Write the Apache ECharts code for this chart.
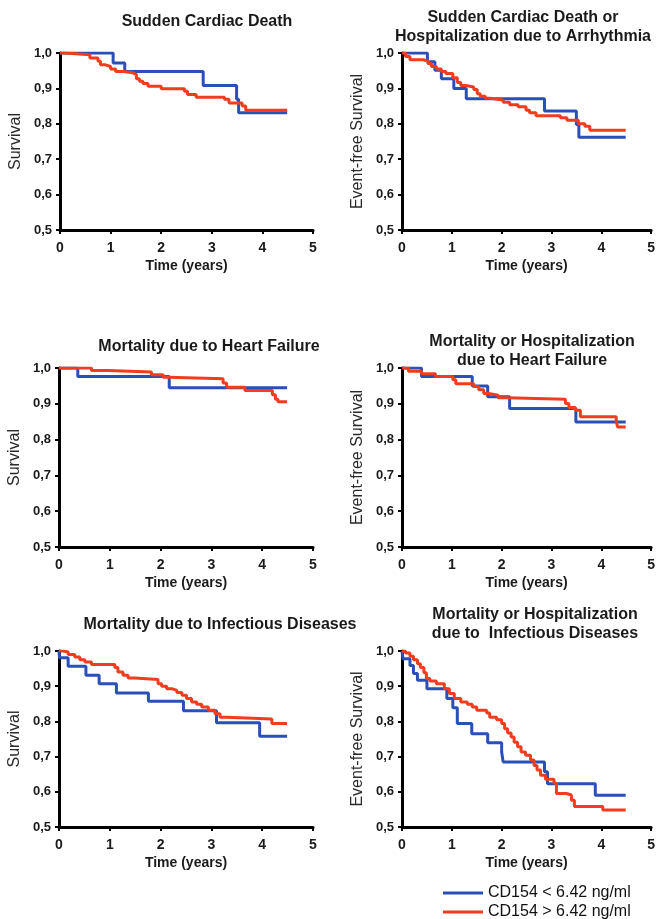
<!DOCTYPE html>
<html>
<head>
<meta charset="utf-8">
<script src="https://cdn.jsdelivr.net/npm/echarts@6/dist/echarts.min.js"></script>
<style>
  html, body { margin: 0; padding: 0; background: #fff; }
  #main { width: 658px; height: 919px; }
</style>
</head>
<body>
<div id="main"></div>
<script>
// Kaplan-Meier curves: [time (years), survival]
var lowName = 'CD154 < 6.42 ng/ml';
var highName = 'CD154 > 6.42 ng/ml';

var xTicks = [0, 1, 2, 3, 4, 5];
var yTicks = [0.5, 0.6, 0.7, 0.8, 0.9, 1.0];

var panelTitles = [
  'Sudden Cardiac Death',
  'Sudden Cardiac Death or\nHospitalization due to Arrhythmia',
  'Mortality due to Heart Failure',
  'Mortality or Hospitalization\ndue to Heart Failure',
  'Mortality due to Infectious Diseases',
  'Mortality or Hospitalization\ndue to  Infectious Diseases'
];
var yNames = ['Survival', 'Event-free Survival', 'Survival', 'Event-free Survival', 'Survival', 'Event-free Survival'];

// Sudden cardiac death
var scdLow = [[0, 1], [1.05, 0.972], [1.28, 0.948], [2.83, 0.908], [3.49, 0.869], [3.53, 0.831], [4.49, 0.831]];
var scdHigh = [[0, 1], [0.1, 0.995], [0.59, 0.986], [0.75, 0.977], [0.8, 0.967], [0.88, 0.962], [1.0, 0.955],
  [1.1, 0.948], [1.25, 0.944], [1.44, 0.939], [1.51, 0.927], [1.57, 0.92], [1.64, 0.914], [1.74, 0.906],
  [2.0, 0.899], [2.46, 0.892], [2.52, 0.883], [2.69, 0.875], [3.25, 0.869], [3.34, 0.859], [3.6, 0.85],
  [3.67, 0.838], [4.49, 0.838]];

// Sudden cardiac death or hospitalization due to arrhythmia
var scdArrLow = [[0, 1], [0.51, 0.975], [0.66, 0.951], [0.79, 0.927], [1.04, 0.9], [1.29, 0.871],
  [2.86, 0.836], [3.5, 0.798], [3.55, 0.762], [4.49, 0.762]];
var scdArrHigh = [[0, 1], [0.07, 0.99], [0.16, 0.981], [0.43, 0.977], [0.52, 0.97], [0.59, 0.962], [0.69, 0.955],
  [0.79, 0.948], [0.88, 0.942], [1.02, 0.93], [1.11, 0.917], [1.18, 0.908], [1.28, 0.904], [1.44, 0.897],
  [1.51, 0.885], [1.57, 0.878], [1.67, 0.872], [1.77, 0.867], [2.03, 0.861], [2.16, 0.854], [2.33, 0.848],
  [2.49, 0.838], [2.56, 0.831], [2.69, 0.823], [3.18, 0.817], [3.31, 0.81], [3.54, 0.8], [3.67, 0.793],
  [3.77, 0.782], [4.49, 0.782]];

// Mortality due to heart failure
var hfLow = [[0, 1], [0.37, 0.976], [2.17, 0.945], [4.49, 0.945]];
var hfHigh = [[0, 1], [0.64, 0.993], [0.96, 0.989], [1.82, 0.981], [2.05, 0.974], [2.15, 0.97], [3.23, 0.958],
  [3.3, 0.946], [3.66, 0.937], [4.2, 0.925], [4.26, 0.913], [4.31, 0.906], [4.49, 0.906]];

// Mortality or hospitalization due to heart failure
var hfHospLow = [[0, 1], [0.39, 0.976], [1.41, 0.95], [1.72, 0.92], [2.16, 0.887], [3.49, 0.849], [4.49, 0.849]];
var hfHospHigh = [[0, 1], [0.13, 0.991], [0.39, 0.984], [0.67, 0.976], [1.02, 0.967], [1.08, 0.956], [1.44, 0.948],
  [1.54, 0.939], [1.64, 0.929], [1.74, 0.924], [1.93, 0.917], [2.1, 0.913], [3.28, 0.901], [3.35, 0.89],
  [3.48, 0.882], [3.58, 0.864], [4.3, 0.85], [4.33, 0.835], [4.49, 0.835]];

// Mortality due to infectious diseases
var infLow = [[0, 1], [0.01, 0.981], [0.18, 0.957], [0.53, 0.931], [0.79, 0.907], [1.13, 0.881], [1.76, 0.857],
  [2.45, 0.83], [3.1, 0.796], [3.95, 0.758], [4.49, 0.758]];
var infHigh = [[0, 1], [0.08, 0.997], [0.18, 0.99], [0.31, 0.983], [0.41, 0.975], [0.51, 0.969], [0.64, 0.962],
  [1.1, 0.953], [1.16, 0.94], [1.26, 0.931], [1.36, 0.923], [1.49, 0.919], [1.95, 0.907], [2.02, 0.9],
  [2.12, 0.893], [2.22, 0.888], [2.32, 0.882], [2.42, 0.874], [2.51, 0.865], [2.61, 0.855], [2.71, 0.849],
  [2.81, 0.841], [2.94, 0.832], [3.07, 0.822], [3.17, 0.812], [3.3, 0.807], [4.19, 0.794], [4.49, 0.794]];

// Mortality or hospitalization due to infectious diseases
var infHospLow = [[0, 1], [0.02, 0.978], [0.16, 0.959], [0.23, 0.936], [0.31, 0.917], [0.5, 0.893], [0.9, 0.865],
  [1.02, 0.839], [1.11, 0.794], [1.4, 0.765], [1.72, 0.739], [2.0, 0.713], [2.03, 0.685], [2.86, 0.657],
  [2.92, 0.623], [3.88, 0.59], [4.49, 0.59]];
var infHospHigh = [[0, 1], [0.07, 0.994], [0.16, 0.985], [0.23, 0.975], [0.31, 0.964], [0.37, 0.953], [0.44, 0.938],
  [0.49, 0.922], [0.56, 0.915], [0.69, 0.907], [0.85, 0.893], [0.95, 0.879], [1.05, 0.865], [1.18, 0.855],
  [1.31, 0.849], [1.41, 0.841], [1.5, 0.832], [1.7, 0.824], [1.76, 0.812], [1.9, 0.805], [2.0, 0.794],
  [2.06, 0.779], [2.12, 0.767], [2.19, 0.756], [2.25, 0.741], [2.32, 0.728], [2.39, 0.713], [2.48, 0.704],
  [2.58, 0.69], [2.65, 0.675], [2.71, 0.662], [2.78, 0.647], [2.88, 0.636], [3.05, 0.624], [3.1, 0.595],
  [3.3, 0.591], [3.4, 0.576], [3.46, 0.558], [4.03, 0.548], [4.49, 0.548]];

var lowCurves = [scdLow, scdArrLow, hfLow, hfHospLow, infLow, infHospLow];
var highCurves = [scdHigh, scdArrHigh, hfHigh, hfHospHigh, infHigh, infHospHigh];

var blue = '#2a50b8';
var red = '#f23c1f';
var font = '"Liberation Sans", Arial, sans-serif';

// panel boxes [left, top, width, height]
var boxes = [
  [60, 53, 253, 177], [402, 53, 253, 177],
  [59, 368, 254, 179], [402, 368, 253, 179],
  [59, 651, 254, 176], [402, 651, 253, 176]
];
// title anchor [centerX, top]
var titlePos = [[202, 7], [518, 3], [204, 332], [527, 327], [215, 610], [530, 600]];

var grids = [], xAxes = [], yAxes = [], titles = [], series = [];
boxes.forEach(function (b, i) {
  grids.push({ left: b[0], top: b[1], width: b[2], height: b[3] });
  titles.push({
    text: panelTitles[i],
    left: titlePos[i][0],
    top: titlePos[i][1],
    textAlign: 'center',
    textStyle: { fontFamily: font, fontSize: 16, fontWeight: 'bold', color: '#1a1a1a', lineHeight: 19 }
  });
  xAxes.push({
    type: 'value', gridIndex: i, min: xTicks[0], max: xTicks[xTicks.length - 1], interval: 1,
    name: 'Time (years)', nameLocation: 'middle', nameGap: 29,
    nameTextStyle: { fontFamily: font, fontSize: 14, fontWeight: 'bold', color: '#1a1a1a' },
    axisLine: { lineStyle: { color: '#000', width: 3 } },
    axisTick: { length: 4, lineStyle: { color: '#000', width: 2 } },
    axisLabel: { fontFamily: font, fontSize: 14, fontWeight: 'bold', color: '#1a1a1a', margin: 11 },
    splitLine: { show: false }
  });
  yAxes.push({
    type: 'value', gridIndex: i, min: yTicks[0], max: yTicks[yTicks.length - 1], interval: 0.1,
    name: yNames[i], nameLocation: 'middle', nameGap: 36, nameRotate: 90,
    nameTextStyle: { fontFamily: font, fontSize: 16, color: '#2a2a2a' },
    axisLine: { show: true, lineStyle: { color: '#000', width: 3 } },
    axisTick: { show: true, length: 4, lineStyle: { color: '#000', width: 2 } },
    axisLabel: {
      fontFamily: font, fontSize: 13, fontWeight: 'bold', color: '#1a1a1a', margin: 8,
      formatter: function (v) { return v.toFixed(1).replace('.', ','); }
    },
    splitLine: { show: false }
  });
  series.push({
    name: lowName, type: 'line', step: 'end', xAxisIndex: i, yAxisIndex: i,
    data: lowCurves[i], showSymbol: false, color: blue,
    lineStyle: { color: blue, width: 3 }, z: 3
  });
  series.push({
    name: highName, type: 'line', step: 'end', xAxisIndex: i, yAxisIndex: i,
    data: highCurves[i], showSymbol: false, color: red,
    lineStyle: { color: red, width: 3 }, z: 4
  });
});

function legendItem(name, top) {
  return {
    data: [name],
    left: 443, top: top, padding: 0,
    icon: 'rect', itemWidth: 40, itemHeight: 3,
    textStyle: { fontFamily: font, fontSize: 16, color: '#111' }
  };
}

var chart = echarts.init(document.getElementById('main'));
chart.setOption({
  animation: false,
  backgroundColor: '#fff',
  title: titles,
  grid: grids,
  xAxis: xAxes,
  yAxis: yAxes,
  legend: [legendItem(lowName, 885), legendItem(highName, 904)],
  series: series
});
</script>
</body>
</html>
